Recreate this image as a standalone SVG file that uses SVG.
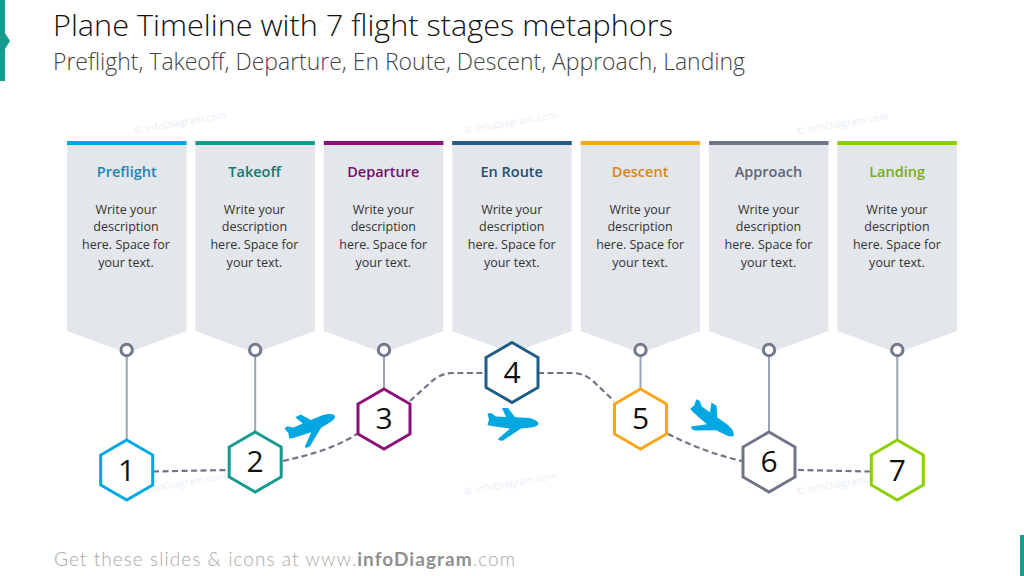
<svg xmlns="http://www.w3.org/2000/svg" width="1024" height="576" viewBox="0 0 1024 576">
<style>
text{font-family:"Open Sans","Noto Sans","Liberation Sans",sans-serif}
.card{fill:#e3e6eb}
.head{font-size:14.5px;font-weight:600;text-anchor:middle}
.body{font-size:12.5px;fill:#333;text-anchor:middle}
.num{font-size:30px;fill:#111;text-anchor:middle}
.hex{fill:#fff;stroke-width:3;stroke-linejoin:miter}
.stem{stroke:#9aa5b5;stroke-width:2;fill:none}
.dot{fill:#fff;stroke:#6f7a8c;stroke-width:3}
.dash{fill:none;stroke:#6f7487;stroke-width:2.2;stroke-dasharray:6 3.5}
.mark{font-size:9.5px;fill:#e6edf5;letter-spacing:.4px}
.plane{fill:#00a7e1}
</style>
<defs>
<path id="card" d="M0,0H119.5V190L59.75,212L0,190Z"/>
<polygon id="hexa" points="0,-30 26,-15 26,15 0,30 -26,15 -26,-15"/>
<path id="pl" d="M25.5,-0.5C25,-3.5 19,-6 13,-6.3L2,-6.8L-5,-16H-11L-7,-7L-17,-7.5L-22,-11L-25.5,-10.5L-24,-4.5L-25.5,1L-21,2L-11,3.5L-3,4.5L-15,15C-15,16.5 -12,17 -10,16.5L8,4.5L18,3.5C22,3 25.5,1.5 25.5,-0.5Z"/>
</defs>
<g id="accents">
<path d="M0,0H5V33L10,41L5,49V81H0Z" fill="#169b8f"/>
<rect x="1020" y="535" width="4" height="41" fill="#169b8f"/>
</g>
<g id="watermarks">
<text class="mark" transform="translate(135,134) rotate(-10)">© infoDiagram.com</text>
<text class="mark" transform="translate(465,134) rotate(-10)">© infoDiagram.com</text>
<text class="mark" transform="translate(797,135) rotate(-10)">© infoDiagram.com</text>
<text class="mark" transform="translate(135,495) rotate(-10)">© infoDiagram.com</text>
<text class="mark" transform="translate(465,495) rotate(-10)">© infoDiagram.com</text>
<text class="mark" transform="translate(797,495) rotate(-10)">© infoDiagram.com</text>
</g>
<g id="title">
<text x="53" y="36" font-size="28.5" font-weight="300" fill="#111" textLength="620" lengthAdjust="spacingAndGlyphs">Plane Timeline with 7 flight stages metaphors</text>
<text x="53" y="70" font-size="23.5" font-weight="300" fill="#444" textLength="692" lengthAdjust="spacingAndGlyphs">Preflight, Takeoff, Departure, En Route, Descent, Approach, Landing</text>
</g>
<g id="cards">
<g id="card-1" transform="translate(67,141)"><use href="#card" class="card"/><rect width="119.5" height="4" fill="#00a7e1"/><text class="head" x="59.75" y="36" fill="#1a86b5">Preflight</text><text class="body" x="59" y="73">Write your</text><text class="body" x="59" y="90">description</text><text class="body" x="59" y="108">here. Space for</text><text class="body" x="59" y="126">your text.</text></g>
<g id="card-2" transform="translate(195.4,141)"><use href="#card" class="card"/><rect width="119.5" height="4" fill="#169b8f"/><text class="head" x="59.2" y="36" fill="#14786f">Takeoff</text><text class="body" x="59" y="73">Write your</text><text class="body" x="59" y="90">description</text><text class="body" x="59" y="108">here. Space for</text><text class="body" x="59" y="126">your text.</text></g>
<g id="card-3" transform="translate(323.8,141)"><use href="#card" class="card"/><rect width="119.5" height="4" fill="#8e0f7a"/><text class="head" x="59.5" y="36" fill="#750f66">Departure</text><text class="body" x="59.5" y="73">Write your</text><text class="body" x="59.5" y="90">description</text><text class="body" x="59.5" y="108">here. Space for</text><text class="body" x="59.5" y="126">your text.</text></g>
<g id="card-4" transform="translate(452.2,141)"><use href="#card" class="card"/><rect width="119.5" height="4" fill="#1f5c87"/><text class="head" x="59.5" y="36" fill="#264f70">En Route</text><text class="body" x="59.5" y="73">Write your</text><text class="body" x="59.5" y="90">description</text><text class="body" x="59.5" y="108">here. Space for</text><text class="body" x="59.5" y="126">your text.</text></g>
<g id="card-5" transform="translate(580.6,141)"><use href="#card" class="card"/><rect width="119.5" height="4" fill="#faa61a"/><text class="head" x="59.5" y="36" fill="#d9860f">Descent</text><text class="body" x="59.5" y="73">Write your</text><text class="body" x="59.5" y="90">description</text><text class="body" x="59.5" y="108">here. Space for</text><text class="body" x="59.5" y="126">your text.</text></g>
<g id="card-6" transform="translate(709,141)"><use href="#card" class="card"/><rect width="119.5" height="4" fill="#6f7587"/><text class="head" x="59.5" y="36" fill="#5f6575">Approach</text><text class="body" x="59.5" y="73">Write your</text><text class="body" x="59.5" y="90">description</text><text class="body" x="59.5" y="108">here. Space for</text><text class="body" x="59.5" y="126">your text.</text></g>
<g id="card-7" transform="translate(837.4,141)"><use href="#card" class="card"/><rect width="119.5" height="4" fill="#8ccf00"/><text class="head" x="59.75" y="36" fill="#76ad14">Landing</text><text class="body" x="59.5" y="73">Write your</text><text class="body" x="59.5" y="90">description</text><text class="body" x="59.5" y="108">here. Space for</text><text class="body" x="59.5" y="126">your text.</text></g>
</g>
<g id="connectors">
<path class="stem" d="M126.7,355V440M255.2,355V432M384,355V389M640.5,355V389M769,355V432M897.3,355V440"/>
<circle class="dot" cx="126.7" cy="350" r="5.7"/><circle class="dot" cx="255.2" cy="350" r="5.7"/><circle class="dot" cx="384" cy="350" r="5.7"/><circle class="dot" cx="640.5" cy="350" r="5.7"/><circle class="dot" cx="769" cy="350" r="5.7"/><circle class="dot" cx="897.3" cy="350" r="5.7"/>
<path class="dash" d="M153,471.5L228,470"/>
<path class="dash" d="M283,461C310,455 335,448 357,434"/>
<path class="dash" d="M410,401L431,382Q441,373 452,373L486,373"/>
<path class="dash" d="M538,373L572,373Q584,373 593,381L614,401"/>
<path class="dash" d="M668,434C690,445 715,455 742,461"/>
<path class="dash" d="M798,470L871,471.5"/>
</g>
<g id="node-1" transform="translate(126.7,470)"><use href="#hexa" class="hex" stroke="#00a7e1"/><text class="num" y="11">1</text></g>
<g id="node-2" transform="translate(255.2,462)"><use href="#hexa" class="hex" stroke="#169b8f"/><text class="num" y="10">2</text></g>
<g id="node-3" transform="translate(384,419)"><use href="#hexa" class="hex" stroke="#8e0f7a"/><text class="num" y="10">3</text></g>
<g id="node-4" transform="translate(512,372.5)"><use href="#hexa" class="hex" stroke="#1f5c87"/><text class="num" y="10">4</text></g>
<g id="node-5" transform="translate(640.5,419)"><use href="#hexa" class="hex" stroke="#faa61a"/><text class="num" y="10">5</text></g>
<g id="node-6" transform="translate(769,462)"><use href="#hexa" class="hex" stroke="#6f7587"/><text class="num" y="10">6</text></g>
<g id="node-7" transform="translate(897.3,470)"><use href="#hexa" class="hex" stroke="#8ccf00"/><text class="num" y="11">7</text></g>
<g id="planes">
<use href="#pl" class="plane" transform="translate(312,427) rotate(-25)"/>
<use href="#pl" class="plane" transform="translate(513,424)"/>
<use href="#pl" class="plane" transform="translate(712,422) rotate(33)"/>
</g>
<text id="footer" x="54" y="566" font-size="19" fill="#a9a9a9" font-weight="300" textLength="461" lengthAdjust="spacing" style="font-family:Lato,'Open Sans',sans-serif">Get these slides &amp; icons at www.<tspan font-weight="700" fill="#8f8f8f">infoDiagram</tspan>.com</text>
</svg>
